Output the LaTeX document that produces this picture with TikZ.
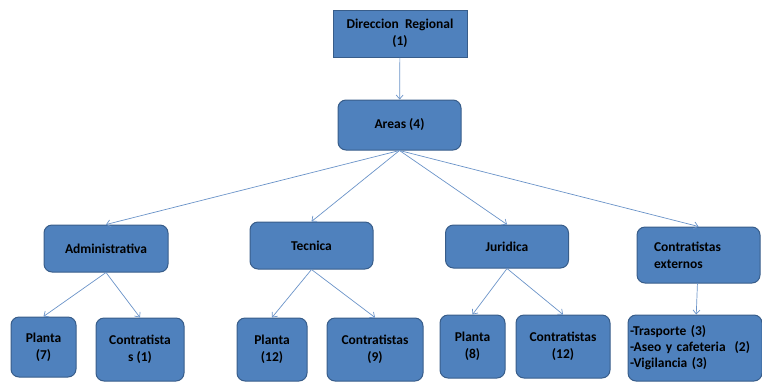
\documentclass[tikz,border=0pt]{standalone}
\usepackage{fontspec}
\setmainfont{Carlito}
\usetikzlibrary{arrows.meta}
\definecolor{boxfill}{HTML}{4F81BD}
\definecolor{boxline}{HTML}{385D8A}
\definecolor{linkline}{HTML}{6A93C8}

\begin{document}
\begin{tikzpicture}[x=1pt, y=-1pt,
  every node/.style = {shape=rectangle, rounded corners=8pt,
    draw=boxline, line width=1pt, fill=boxfill, align=center,
    inner sep=2pt, font=\fontsize{13.5}{17}\selectfont\bfseries},
  link/.style = {draw=linkline, line width=0.7pt,
    -{Straight Barb[length=4pt,width=7pt]}}]
  \useasboundingbox (0,0) rectangle (762,381);
  % top levels
  \node[rounded corners=0pt, minimum width=134pt, minimum height=47pt]
    (dir) at (400,33.5) {Direccion\ \ Regional\\(1)};
  \node[minimum width=123pt, minimum height=50pt] (areas) at (399.5,125) {Areas (4)};
  % areas
  \node[minimum width=124pt, minimum height=47pt] (admin) at (106,248.5) {Administrativa};
  \node[minimum width=123pt, minimum height=47pt] (tecnica) at (311.5,245.5) {Tecnica};
  \node[minimum width=123pt, minimum height=43pt] (juridica) at (507,246.5) {Juridica};
  \node[minimum width=123pt, minimum height=56pt, text width=89pt, align=left]
    (externos) at (698.5,255) {Contratistas\\externos};
  % personal
  \node[minimum width=65pt, minimum height=60pt] (planta7) at (43.5,347) {Planta\\(7)};
  \node[minimum width=88pt, minimum height=63pt] (contr1) at (140,349.5) {Contratista\\s (1)};
  \node[minimum width=70pt, minimum height=63pt] (planta12) at (272,349.5) {Planta\\(12)};
  \node[minimum width=96pt, minimum height=63pt] (contr9) at (375,349.5) {Contratistas\\(9)};
  \node[minimum width=65pt, minimum height=63pt] (planta8) at (472.5,346.5) {Planta\\(8)};
  \node[minimum width=94pt, minimum height=63pt] (contr12) at (563,346.5) {Contratistas\\(12)};
  \node[minimum width=134pt, minimum height=66pt, text width=130pt, align=left,
    font=\fontsize{13.5}{16}\selectfont\bfseries]
    (servicios) at (695,348) {-Trasporte (3)\\-Aseo y cafeteria\ \ (2)\\-Vigilancia (3)};
  % links
  \draw[link] (dir) -- (areas);
  \foreach \to in {admin, tecnica, juridica, externos}
    \draw[link] (areas.south) -- (\to.north);
  \draw[link] (admin.south) -- (planta7.north);
  \draw[link] (admin.south) -- (contr1.north);
  \draw[link] (tecnica.south) -- (planta12.north);
  \draw[link] (tecnica.south) -- (contr9.north);
  \draw[link] (juridica.south) -- (planta8.north);
  \draw[link] (juridica.south) -- (contr12.north);
  \draw[link] (externos) -- (servicios);
\end{tikzpicture}
\end{document}
